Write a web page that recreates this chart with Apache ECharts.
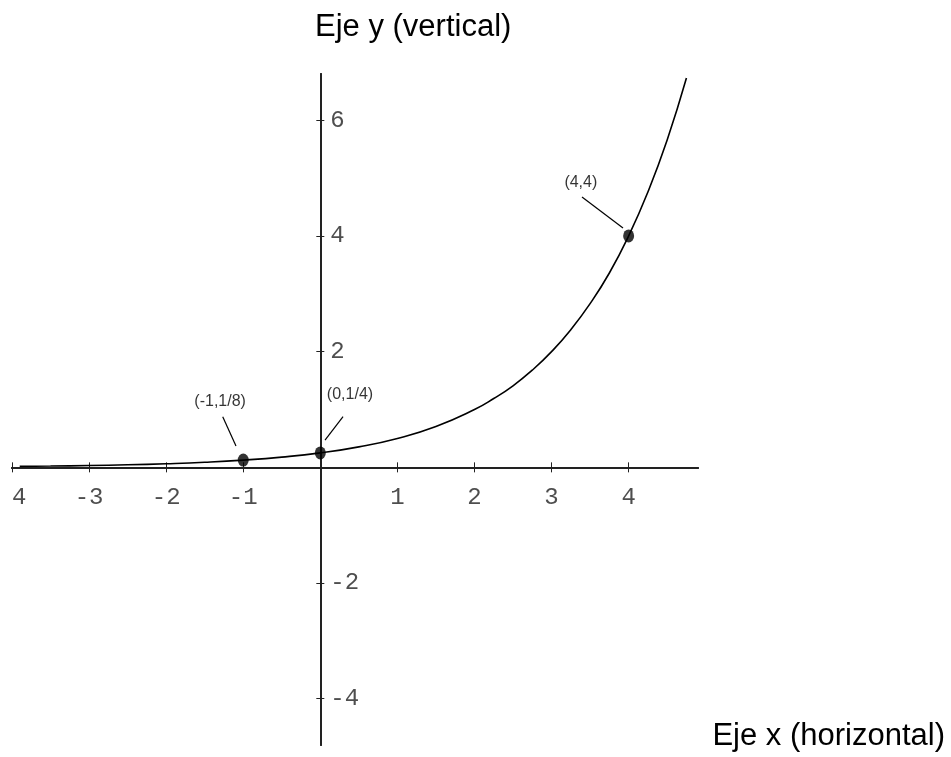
<!DOCTYPE html>
<html lang="es">
<head>
<meta charset="UTF-8">
<title>Eje y (vertical)</title>
<script src="https://cdn.jsdelivr.net/npm/echarts/dist/echarts.min.js"></script>
<style>
  body { margin: 0; padding: 0; background: #fff; }
  #chart { width: 951px; height: 757px; }
</style>
</head>
<body>
<div id="chart"></div>
<script>
  // curva (x, y)
  const curveX = [-3.9, -3.5, -3, -2.5, -2, -1.5, -1, -0.5, 0, 0.5, 1, 1.5, 2, 2.25, 2.5, 2.75, 3, 3.25, 3.5, 3.75, 4, 4.25, 4.5, 4.75];
  const curveY = [0.017, 0.022, 0.031, 0.044, 0.0625, 0.088, 0.125, 0.177, 0.25, 0.354, 0.5, 0.707, 1, 1.19, 1.41, 1.68, 2, 2.38, 2.83, 3.36, 4, 4.76, 5.66, 6.73];

  // puntos marcados
  const pointX = [-1, 0, 4];
  const pointY = [0.125, 0.25, 4];
  const pointNames = ['(-1,1/8)', '(0,1/4)', '(4,4)'];
  // posicion de cada etiqueta y de su linea guia, en unidades de los ejes
  const labelPos = [[-1.30, 1.13], [0.385, 1.25], [3.38, 4.92]];
  const leaderFrom = [[-1.266, 0.875], [0.295, 0.875], [3.395, 4.673]];
  const leaderTo = [[-1.094, 0.368], [0.061, 0.472], [3.927, 4.137]];

  // marcas de los ejes
  const xTickValues = [-4, -3, -2, -1, 1, 2, 3, 4];
  const xTickLabels = [' 4', '-3', '-2', '-1', '1', '2', '3', '4'];
  const yTickValues = [6, 4, 2, -2, -4];
  const yTickLabels = ['6', '4', '2', '-2', '-4'];

  const chart = echarts.init(document.getElementById('chart'));

  const tickFont = { fontFamily: 'Liberation Mono', fontSize: 24, color: '#222' };
  const axisLine = { onZero: true, lineStyle: { color: '#222', width: 2 } };

  const xBase = { type: 'value', min: -4, max: 4.9, splitLine: { show: false }, axisLine: axisLine, axisLabel: { show: false } };
  const yBase = { type: 'value', min: -4.8, max: 6.8, splitLine: { show: false }, axisLine: axisLine, axisLabel: { show: false } };
  const tickStyle = { color: '#222', width: 1 };

  const curveData = curveX.map((x, i) => [x, curveY[i]]);
  const pointData = pointX.map((x, i) => [x, pointY[i]]);
  const labelData = labelPos.map((p, i) => ({ value: p, name: pointNames[i] }));
  const leaderData = leaderFrom.map((p, i) => [{ coord: p }, { coord: leaderTo[i] }]);
  const xLabelData = xTickValues.map((v, i) => ({ value: [v, 0], name: xTickLabels[i] }));
  const yLabelData = yTickValues.map((v, i) => ({ value: [0, v], name: yTickLabels[i] }));

  chart.setOption({
    animation: false,
    grid: { left: 12, top: 74, width: 686, height: 671, containLabel: false, outerBoundsMode: 'none' },
    graphic: [
      { type: 'text', left: 315, top: 12, style: { text: 'Eje y (vertical)', fontFamily: 'Liberation Sans', fontSize: 31, fill: '#000' } },
      { type: 'text', right: 6, top: 721, style: { text: 'Eje x (horizontal)', fontFamily: 'Liberation Sans', fontSize: 31, fill: '#000' } }
    ],
    xAxis: [
      Object.assign({}, xBase, { position: 'bottom', axisTick: { show: true, length: 5, customValues: xTickValues, lineStyle: tickStyle } }),
      Object.assign({}, xBase, { position: 'top', axisTick: { show: true, length: 5, customValues: xTickValues, lineStyle: tickStyle } })
    ],
    yAxis: [
      Object.assign({}, yBase, { position: 'left', axisTick: { show: true, length: 4, customValues: yTickValues, lineStyle: tickStyle } }),
      Object.assign({}, yBase, { position: 'right', axisTick: { show: true, length: 4, customValues: yTickValues, lineStyle: tickStyle } })
    ],
    series: [
      {
        type: 'line',
        data: curveData,
        smooth: true,
        showSymbol: false,
        lineStyle: { color: '#000', width: 1.6 },
        z: 3
      },
      {
        type: 'scatter',
        data: pointData,
        symbol: 'circle',
        symbolSize: [11, 13],
        itemStyle: { color: '#000' },
        z: 5,
        markLine: {
          silent: true,
          symbol: 'none',
          label: { show: false },
          lineStyle: { color: '#000', width: 1.2, type: 'solid' },
          data: leaderData
        }
      },
      {
        type: 'scatter',
        data: labelData,
        symbolSize: 0,
        label: {
          show: true,
          position: 'inside',
          formatter: p => p.name,
          fontFamily: 'Liberation Sans',
          fontSize: 16,
          color: '#000'
        },
        z: 6
      },
      {
        type: 'scatter',
        data: xLabelData,
        symbolSize: 0,
        silent: true,
        label: Object.assign({ show: true, position: 'bottom', distance: 18, formatter: p => p.name }, tickFont)
      },
      {
        type: 'scatter',
        data: yLabelData,
        symbolSize: 0,
        silent: true,
        label: Object.assign({ show: true, position: 'right', distance: 10, formatter: p => p.name }, tickFont)
      }
    ]
  });
</script>
</body>
</html>
